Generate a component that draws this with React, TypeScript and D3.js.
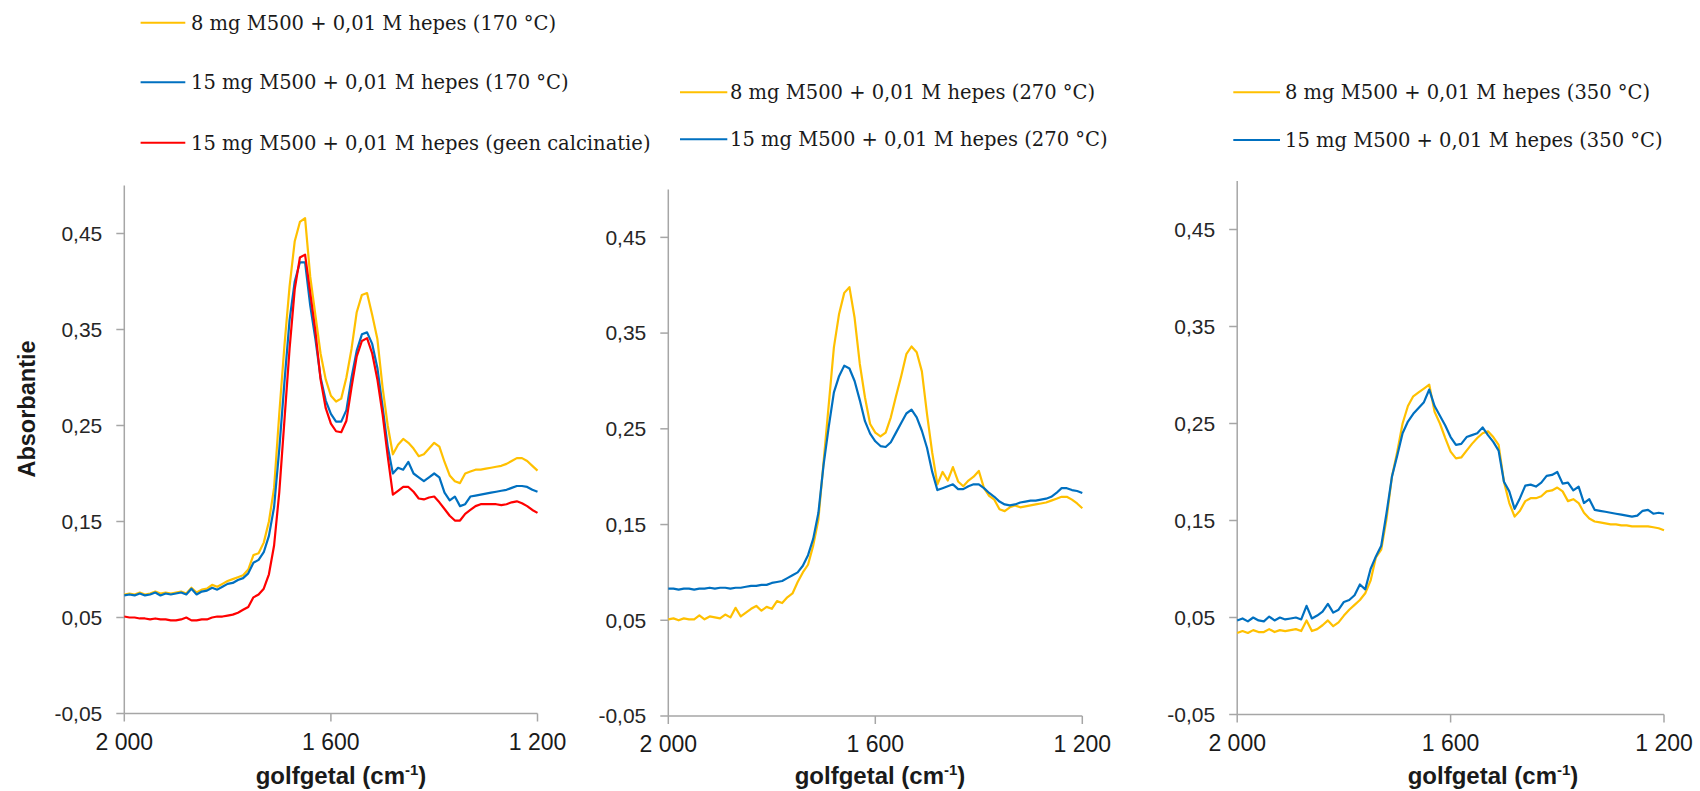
import * as d3 from "d3";

// wavenumber grid (cm-1), read every 10 cm-1
const wavenumbers = [
  2000, 1990, 1980, 1970, 1960, 1950, 1940, 1930, 1920, 1910, 1900, 1890, 1880, 1870, 1860, 1850, 1840,
  1830, 1820, 1810, 1800, 1790, 1780, 1770, 1760, 1750, 1740, 1730, 1720, 1710, 1700, 1690, 1680, 1670,
  1660, 1650, 1640, 1630, 1620, 1610, 1600, 1590, 1580, 1570, 1560, 1550, 1540, 1530, 1520, 1510, 1500,
  1490, 1480, 1470, 1460, 1450, 1440, 1430, 1420, 1410, 1400, 1390, 1380, 1370, 1360, 1350, 1340, 1330,
  1320, 1310, 1300, 1290, 1280, 1270, 1260, 1250, 1240, 1230, 1220, 1210, 1200,
];

// panel 1: 170 °C
const mg8_170 = [
  0.074, 0.075, 0.074, 0.076, 0.074, 0.075, 0.077, 0.075, 0.076, 0.075, 0.076, 0.077, 0.075,
  0.081, 0.076, 0.079, 0.08, 0.084, 0.082, 0.085, 0.088, 0.09, 0.092, 0.094, 0.1,
  0.115, 0.117, 0.128, 0.15, 0.185, 0.262,
  0.333, 0.395, 0.442, 0.462, 0.466, 0.405, 0.365, 0.325, 0.298, 0.281,
  0.275, 0.278, 0.3, 0.33, 0.368, 0.386, 0.388, 0.365, 0.34, 0.29,
  0.25, 0.22, 0.23, 0.236, 0.232, 0.226, 0.218, 0.22, 0.226, 0.232,
  0.228, 0.212, 0.198, 0.192, 0.19, 0.2, 0.202, 0.204, 0.204, 0.205,
  0.206, 0.207, 0.208, 0.21, 0.213, 0.216, 0.216, 0.213, 0.208, 0.203,
];
const mg15_170 = [
  0.073, 0.074, 0.073, 0.075, 0.073, 0.074, 0.076, 0.073, 0.075, 0.074, 0.075, 0.076, 0.074,
  0.08, 0.074, 0.077, 0.078, 0.081, 0.079, 0.082, 0.085, 0.086, 0.089, 0.091, 0.096,
  0.107, 0.11, 0.118, 0.135, 0.165, 0.225,
  0.295, 0.36, 0.4, 0.42, 0.42, 0.375, 0.34, 0.3, 0.276, 0.262,
  0.254, 0.254, 0.266, 0.3, 0.328, 0.345, 0.347, 0.335, 0.31, 0.27,
  0.228, 0.2, 0.206, 0.204, 0.212, 0.2, 0.196, 0.192, 0.196, 0.2,
  0.196, 0.18, 0.172, 0.176, 0.166, 0.168, 0.176, 0.177, 0.178, 0.179,
  0.18, 0.181, 0.182, 0.183, 0.185, 0.187, 0.187, 0.186, 0.183, 0.181,
];
const mg15_geen = [
  0.051, 0.05, 0.05, 0.049, 0.049, 0.048, 0.049, 0.048, 0.048, 0.047, 0.047, 0.048, 0.05,
  0.047, 0.047, 0.048, 0.048, 0.05, 0.051, 0.051, 0.052, 0.053, 0.055, 0.058, 0.061,
  0.071, 0.074, 0.08, 0.095, 0.125, 0.18,
  0.255, 0.33, 0.392, 0.425, 0.428, 0.388, 0.348, 0.298, 0.268, 0.252,
  0.244, 0.243, 0.255, 0.29, 0.322, 0.338, 0.341, 0.325, 0.298, 0.262,
  0.218, 0.178, 0.182, 0.186, 0.186, 0.181, 0.174, 0.173, 0.175, 0.176,
  0.17, 0.163, 0.156, 0.151, 0.151, 0.158, 0.162, 0.166, 0.168, 0.168,
  0.168, 0.168, 0.167, 0.168, 0.17, 0.171, 0.169, 0.166, 0.162, 0.159,
];

// panel 2: 270 °C
const mg8_270 = [
  0.051, 0.052, 0.05, 0.052, 0.051, 0.051, 0.055, 0.051, 0.054, 0.053, 0.052, 0.056, 0.053,
  0.063, 0.054, 0.058, 0.062, 0.065, 0.06, 0.064, 0.062, 0.07, 0.068, 0.074, 0.078,
  0.09, 0.1, 0.108, 0.128, 0.155, 0.215,
  0.275, 0.335, 0.37, 0.392, 0.398, 0.366, 0.318, 0.283, 0.255, 0.246,
  0.242, 0.246, 0.262, 0.284, 0.305, 0.328, 0.336, 0.33, 0.31, 0.265,
  0.225, 0.192, 0.205, 0.196, 0.21, 0.195, 0.19, 0.196, 0.2, 0.206,
  0.188, 0.18, 0.176, 0.166, 0.164, 0.168, 0.17, 0.168, 0.169, 0.17,
  0.171, 0.172, 0.173, 0.175, 0.177, 0.179, 0.179, 0.176, 0.172, 0.167,
];
const mg15_270 = [
  0.083, 0.083, 0.082, 0.083, 0.083, 0.082, 0.083, 0.083, 0.084, 0.083, 0.084, 0.084, 0.083,
  0.084, 0.084, 0.085, 0.086, 0.086, 0.087, 0.087, 0.089, 0.09, 0.091, 0.094, 0.097,
  0.1, 0.107, 0.118, 0.135, 0.162, 0.212,
  0.252, 0.288, 0.305, 0.316, 0.313, 0.3, 0.28, 0.258, 0.245, 0.237,
  0.232, 0.231, 0.236, 0.246, 0.256, 0.266, 0.27, 0.262, 0.248, 0.23,
  0.205, 0.186, 0.188, 0.19, 0.192, 0.187, 0.187, 0.19, 0.192, 0.192,
  0.188, 0.183, 0.179, 0.174, 0.171, 0.17, 0.171, 0.173, 0.174, 0.175,
  0.175, 0.176, 0.177, 0.179, 0.183, 0.188, 0.188, 0.186, 0.185, 0.183,
];

// panel 3: 350 °C
const mg8_350 = [
  0.034, 0.036, 0.034, 0.037, 0.035, 0.035, 0.038, 0.035, 0.037, 0.036, 0.037, 0.038, 0.036,
  0.047, 0.036, 0.038, 0.042, 0.047, 0.041, 0.045, 0.052, 0.058, 0.063, 0.068, 0.075,
  0.088, 0.112, 0.12, 0.152, 0.195, 0.221,
  0.25, 0.268, 0.278, 0.282, 0.286, 0.29, 0.262, 0.25, 0.235, 0.221,
  0.214, 0.215, 0.222, 0.229, 0.235, 0.24, 0.242, 0.236, 0.228, 0.19,
  0.168, 0.154, 0.16, 0.17, 0.173, 0.173, 0.175, 0.18, 0.181, 0.184,
  0.18, 0.17, 0.172, 0.168, 0.158, 0.152, 0.149, 0.148, 0.147, 0.146,
  0.146, 0.145, 0.145, 0.144, 0.144, 0.144, 0.144, 0.143, 0.142, 0.14,
];
const mg15_350 = [
  0.047, 0.049, 0.046, 0.05, 0.047, 0.046, 0.051, 0.047, 0.05, 0.048, 0.049, 0.05, 0.048,
  0.062, 0.049, 0.052, 0.056, 0.064, 0.055, 0.058, 0.066, 0.068, 0.073, 0.084, 0.079,
  0.1, 0.113, 0.124, 0.158, 0.195, 0.217,
  0.24, 0.252, 0.26, 0.266, 0.272, 0.285, 0.268, 0.258, 0.248, 0.236,
  0.228, 0.229, 0.236, 0.238, 0.24, 0.246, 0.238, 0.231, 0.222, 0.19,
  0.18, 0.162, 0.173, 0.186, 0.187, 0.185, 0.189, 0.196, 0.197, 0.2,
  0.188, 0.189, 0.181, 0.185, 0.168, 0.172, 0.161, 0.16, 0.159, 0.158,
  0.157, 0.156, 0.155, 0.154, 0.155, 0.16, 0.161, 0.157, 0.158, 0.157,
];

const legend170 = [
  "8 mg M500 + 0,01 M hepes (170 °C)",
  "15 mg M500 + 0,01 M hepes (170 °C)",
  "15 mg M500 + 0,01 M hepes (geen calcinatie)",
];
const legend270 = ["8 mg M500 + 0,01 M hepes (270 °C)", "15 mg M500 + 0,01 M hepes (270 °C)"];
const legend350 = ["8 mg M500 + 0,01 M hepes (350 °C)", "15 mg M500 + 0,01 M hepes (350 °C)"];

const xTicks = [2000, 1600, 1200];
const yTicks = [-0.05, 0.05, 0.15, 0.25, 0.35, 0.45];

const YELLOW = "#FFC000";
const BLUE = "#0070C0";
const RED = "#FF0000";
const AXIS = "#a6a6a6";

const nl = d3.formatLocale({
  decimal: ",",
  thousands: " ",
  grouping: [3],
  currency: ["", ""],
  minus: "-",
});
const fmtY = nl.format(".2f");
const fmtX = nl.format(",");

const panels = [
  {
    series: [
      { name: legend170[0], color: YELLOW, values: mg8_170 },
      { name: legend170[1], color: BLUE, values: mg15_170 },
      { name: legend170[2], color: RED, values: mg15_geen },
    ],
    box: { left: 124.3, right: 537.5, top: 185.5, bottom: 713.5 },
    titleX: 341,
    legend: { x1: 140.6, x2: 185.3, tx: 191, rows: [22.7, 82.3, 142.7] },
    showYTitle: true,
  },
  {
    series: [
      { name: legend270[0], color: YELLOW, values: mg8_270 },
      { name: legend270[1], color: BLUE, values: mg15_270 },
    ],
    box: { left: 668.3, right: 1082.3, top: 189.5, bottom: 716 },
    titleX: 880,
    legend: { x1: 680, x2: 727.3, tx: 730, rows: [92.3, 139.3] },
    showYTitle: false,
  },
  {
    series: [
      { name: legend350[0], color: YELLOW, values: mg8_350 },
      { name: legend350[1], color: BLUE, values: mg15_350 },
    ],
    box: { left: 1237.2, right: 1664, top: 181, bottom: 714.5 },
    titleX: 1493,
    legend: { x1: 1233.3, x2: 1280, tx: 1285, rows: [92.3, 140] },
    showYTitle: false,
  },
];

const sans = "'Liberation Sans', Arial, sans-serif";
const serif = "'DejaVu Serif', 'Liberation Serif', serif";

function Panel({ p }: { p: (typeof panels)[number] }) {
  const x = d3.scaleLinear().domain([2000, 1200]).range([p.box.left, p.box.right]);
  const y = d3.scaleLinear().domain([-0.05, 0.5]).range([p.box.bottom, p.box.top]);
  const line = d3
    .line<number>()
    .x((_, i) => x(wavenumbers[i]))
    .y((d) => y(d));

  return (
    <g>
      {/* legend */}
      {p.series.map((s, i) => (
        <g key={s.name}>
          <line
            x1={p.legend.x1}
            x2={p.legend.x2}
            y1={p.legend.rows[i]}
            y2={p.legend.rows[i]}
            stroke={s.color}
            strokeWidth={2}
          />
          <text
            x={p.legend.tx}
            y={p.legend.rows[i]}
            dy="0.36em"
            fontFamily={serif}
            fontSize={19.5}
            fill="#1a1a1a"
          >
            {s.name}
          </text>
        </g>
      ))}

      {/* axes */}
      <line x1={x(2000)} x2={x(2000)} y1={y(-0.05)} y2={y(0.5)} stroke={AXIS} strokeWidth={1.5} />
      <line x1={x(2000)} x2={x(1200)} y1={y(-0.05)} y2={y(-0.05)} stroke={AXIS} strokeWidth={1.5} />
      {yTicks.map((t) => (
        <g key={t}>
          <line x1={x(2000) - 8} x2={x(2000)} y1={y(t)} y2={y(t)} stroke={AXIS} strokeWidth={1.5} />
          <text
            x={x(2000) - 22}
            y={y(t)}
            dy="0.35em"
            textAnchor="end"
            fontFamily={sans}
            fontSize={21}
            fill="#262626"
          >
            {fmtY(t)}
          </text>
        </g>
      ))}
      {xTicks.map((t) => (
        <g key={t}>
          <line x1={x(t)} x2={x(t)} y1={y(-0.05)} y2={y(-0.05) + 8} stroke={AXIS} strokeWidth={1.5} />
          <text
            x={x(t)}
            y={y(-0.05) + 28}
            dy="0.35em"
            textAnchor="middle"
            fontFamily={sans}
            fontSize={23}
            fill="#1a1a1a"
          >
            {fmtX(t)}
          </text>
        </g>
      ))}

      {/* spectra */}
      {p.series.map((s) => (
        <path
          key={s.name}
          d={line(s.values) ?? ""}
          fill="none"
          stroke={s.color}
          strokeWidth={2.2}
          strokeLinejoin="round"
        />
      ))}

      <text
        x={p.titleX}
        y={784}
        textAnchor="middle"
        fontFamily={sans}
        fontSize={24}
        fontWeight="bold"
        fill="#1a1a1a"
      >
        golfgetal (cm
        <tspan fontSize={15} dy={-9}>
          -1
        </tspan>
        <tspan dy={9}>)</tspan>
      </text>

      {p.showYTitle && (
        <text
          transform={`translate(27, 409) rotate(-90)`}
          dy="0.35em"
          textAnchor="middle"
          fontFamily={sans}
          fontSize={23.5}
          fontWeight="bold"
          fill="#1a1a1a"
        >
          Absorbantie
        </text>
      )}
    </g>
  );
}

export default function App() {
  return (
    <svg
      width={1700}
      height={791}
      style={{ position: "absolute", left: 0, top: 0, background: "#fff" }}
    >
      {panels.map((p, i) => (
        <Panel key={i} p={p} />
      ))}
    </svg>
  );
}
